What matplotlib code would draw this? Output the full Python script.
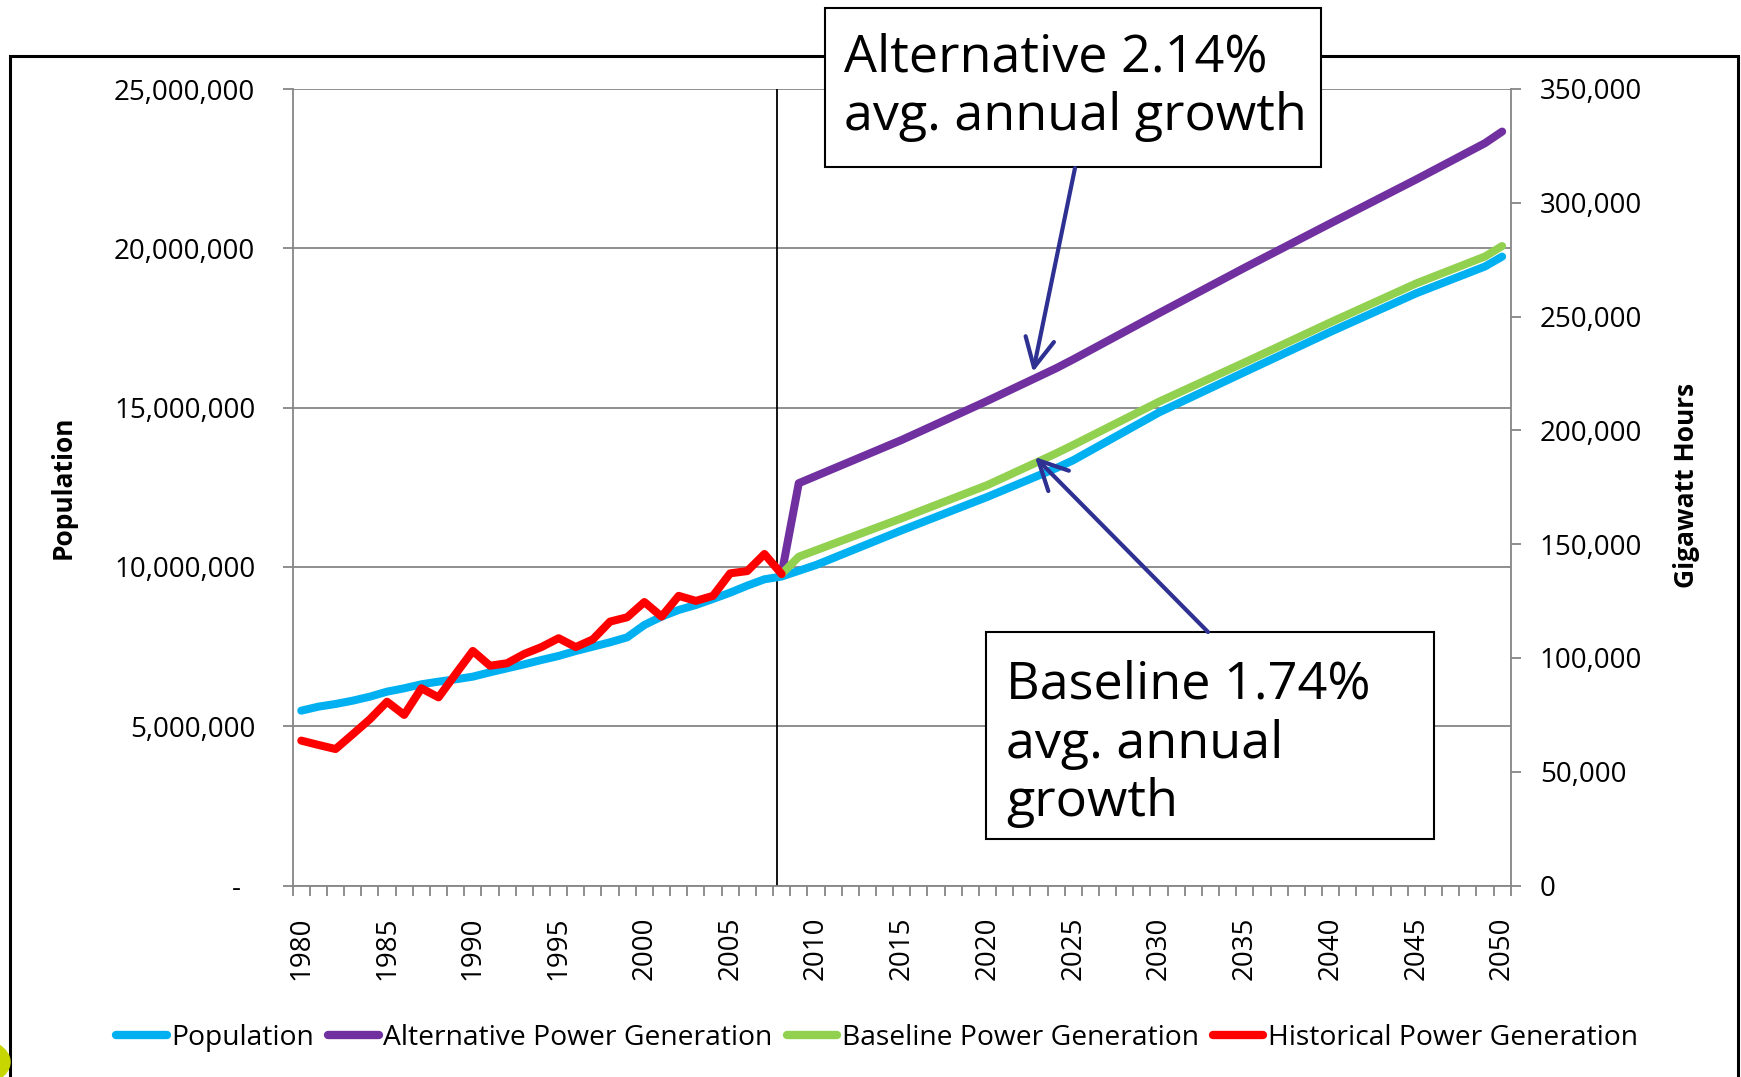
import numpy as np
import matplotlib
matplotlib.use("Agg")
import matplotlib.pyplot as plt
from matplotlib.patches import Rectangle, Circle, FancyArrowPatch
from matplotlib.lines import Line2D

# ---------------- data ----------------
hist_years = list(range(1980, 2009))
population_hist = [5490000, 5616000, 5700000, 5804000, 5930000, 6087000, 6192000,
                   6317000, 6401000, 6474000, 6558000, 6694000, 6820000, 6945000,
                   7081000, 7207000, 7363000, 7499000, 7636000, 7792000, 8180000,
                   8441000, 8650000, 8807000, 8996000, 9194000, 9414000, 9613000,
                   9700000]
historical_gwh = [63700, 61800, 60000, 66500, 73100, 80800, 75000, 86700, 82700,
                  93000, 103100, 96600, 97700, 101800, 104800, 108700, 104800,
                  108200, 116000, 117900, 124600, 118200, 127300, 125100, 127300,
                  137200, 138200, 145700, 136900]

pop_proj_years = [2010, 2015, 2020, 2024, 2025, 2030, 2035, 2040, 2045, 2049, 2050]
population_proj = [10060000, 11150000, 12200000, 13100000, 13350000, 14850000,
                   16120000, 17380000, 18590000, 19430000, 19740000]

proj_years = [2008, 2009, 2015, 2020, 2024, 2025, 2030, 2035, 2040, 2045, 2049, 2050]
alternative_gwh = [136900, 176800, 195800, 213000, 227300, 231200, 251500, 271500,
                   291000, 310300, 326200, 331300]
baseline_gwh = [136900, 144500, 161400, 176000, 189900, 193600, 212600, 229900,
                247500, 264600, 276400, 281000]

pop_years = hist_years + pop_proj_years
population = population_hist + population_proj

year_labels = list(range(1980, 2051, 5))
left_ticks = [0, 5000000, 10000000, 15000000, 20000000, 25000000]
right_ticks = [0, 50000, 100000, 150000, 200000, 250000, 300000, 350000]
forecast_divider = 2007.75

series_names = ["Population", "Alternative Power Generation",
                "Baseline Power Generation", "Historical Power Generation"]
colors = ["#00B0F0", "#7030A0", "#92D050", "#FF0000"]

# ---------------- figure ----------------
W, H = 1741, 1077
plt.rcParams["font.family"] = ["Open Sans", "DejaVu Sans"]
fig = plt.figure(figsize=(W / 100, H / 100), dpi=100)


def fx(x):
    return x / W


def fy(y):
    return 1 - y / H


L, R, T, B = 292.7, 1510.7, 89, 885.6
ax = fig.add_axes([fx(L), fy(B), fx(R) - fx(L), fy(T) - fy(B)])
ax.set_facecolor("none")
ax2 = ax.twinx()

GRAY = "#868686"
LW = 5.8
kw = dict(lw=LW, solid_capstyle="round", solid_joinstyle="round")

ax.plot(pop_years, population, color=colors[0], **kw)
ax2.plot(proj_years, alternative_gwh, color=colors[1], **kw)
ax2.plot(proj_years, baseline_gwh, color=colors[2], **kw)
ax2.plot(hist_years, historical_gwh, color=colors[3], **kw)
ax.axvline(forecast_divider, color="black", lw=1.3, zorder=1)

ax.set_xlim(1979.5, 2050.5)
ax.set_ylim(0, 25000000)
ax2.set_ylim(0, 350000)

ax.set_yticks(left_ticks)
ax.set_yticklabels(["-  " if v == 0 else f"{v:,}" for v in left_ticks])
ax2.set_yticks(right_ticks)
ax2.set_yticklabels([f"{v:,}" for v in right_ticks])

ax.set_xticks(year_labels)
ax.set_xticklabels([str(y) for y in year_labels], rotation=90)
ax.set_xticks(np.arange(1979.5, 2051, 1), minor=True)

ax.tick_params(axis="x", which="major", length=0, pad=22, labelsize=20)
ax.tick_params(axis="x", which="minor", length=7, width=1.3, color=GRAY, direction="out")
ax.tick_params(axis="y", which="major", length=7, width=1.3, color=GRAY, pad=20, labelsize=20)
ax2.tick_params(axis="y", which="major", length=7, width=1.3, color=GRAY, pad=14, labelsize=20)

ax.yaxis.grid(True, color=GRAY, lw=1.3)
ax.set_axisbelow(True)

for s in ["top", "right"]:
    ax.spines[s].set_visible(False)
for s in ["left", "bottom"]:
    ax.spines[s].set_color(GRAY)
    ax.spines[s].set_linewidth(1.3)
for s in ["top", "left", "bottom"]:
    ax2.spines[s].set_visible(False)
ax2.spines["right"].set_color(GRAY)
ax2.spines["right"].set_linewidth(1.3)

# axis titles
fig.text(fx(63), fy(487), "Population", rotation=90, ha="center", va="center",
         fontsize=19, fontweight="bold")
fig.text(fx(1686), fy(485), "Gigawatt Hours", rotation=90, ha="center", va="center",
         fontsize=19, fontweight="bold")

# legend
handles = [Line2D([0], [0], color=c, lw=6, solid_capstyle="round") for c in colors]
fig.legend(handles, series_names, loc="center", bbox_to_anchor=(fx(877), fy(1038)),
           ncol=4, frameon=False, fontsize=20.3, handlelength=1.8, handletextpad=0.15,
           columnspacing=0.5)

# outer slide border and corner decoration
fig.add_artist(Rectangle((fx(10), fy(1120)), fx(1738) - fx(10), fy(56) - fy(1120),
                         fill=False, ec="black", lw=2.2, transform=fig.transFigure,
                         zorder=-1))
fig.add_artist(Circle((fx(-30), fy(1062)), 0.023, color="#C8D600",
                      transform=fig.transFigure, zorder=-1))

# annotation boxes
fig.add_artist(Rectangle((fx(825), fy(167)), fx(1321) - fx(825), fy(8) - fy(167),
                         fc="white", ec="black", lw=1.5, transform=fig.transFigure,
                         zorder=5))
fig.text(fx(844), fy(87), "Alternative 2.14%\navg. annual growth", ha="left",
         va="center", fontsize=37.5, linespacing=1.2, zorder=6)

fig.add_artist(Rectangle((fx(986), fy(839)), fx(1434) - fx(986), fy(632) - fy(839),
                         fc="white", ec="black", lw=1.5, transform=fig.transFigure,
                         zorder=5))
fig.text(fx(1006), fy(744), "Baseline 1.74%\navg. annual\ngrowth", ha="left",
         va="center", fontsize=37.5, linespacing=1.2, zorder=6)

ARROW = "#2E3192"
for start, end in [((1075, 168), (1033, 372)), ((1208, 632), (1035, 457))]:
    fig.add_artist(FancyArrowPatch((fx(start[0]), fy(start[1])), (fx(end[0]), fy(end[1])),
                                   transform=fig.transFigure,
                                   arrowstyle="->,head_length=0.8,head_width=0.4",
                                   mutation_scale=26, lw=3.0, color=ARROW,
                                   shrinkA=0, shrinkB=0, zorder=7))

fig.savefig("out.png", dpi=100)
